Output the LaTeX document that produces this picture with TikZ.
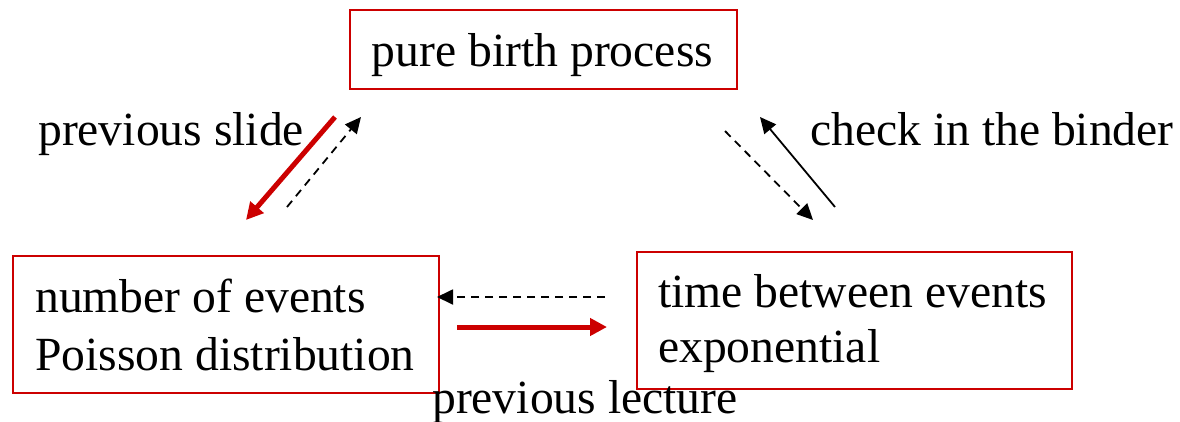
\documentclass[tikz,border=0pt]{standalone}
\usepackage{fontspec}
\setmainfont{Liberation Serif}
\usetikzlibrary{arrows.meta}
\definecolor{boxred}{RGB}{204,0,0}
\tikzset{
  box/.style={draw=boxred, line width=2pt, fill=white, inner sep=0pt},
  txt/.style={inner sep=0pt, font=\fontsize{47.6}{58}\selectfont},
  redarrow/.style={draw=boxred, line width=5pt, -{Triangle[length=17pt,width=17pt]}},
  dasharrow/.style={draw=black, line width=1.8pt, dash pattern=on 8pt off 6pt, -{Triangle[length=16pt,width=15pt]}},
  solidarrow/.style={draw=black, line width=1.8pt, -{Triangle[length=16pt,width=15pt]}}
}
\begin{document}
\begin{tikzpicture}[x=1pt,y=-1pt]
\useasboundingbox (0,0) rectangle (1180,421);
% boxes
\node[box, minimum width=387pt, minimum height=79pt] (top) at (543,49.5) {};
\node[box, minimum width=426pt, minimum height=137pt] (left) at (226,324.5) {};
\node[box, minimum width=435pt, minimum height=137pt] (right) at (854.5,320.5) {};
% box texts
\node[txt, anchor=base] (topt) at (542.5,66) {pure birth process};
\node[txt, anchor=base west] (leftt1) at (35,312) {number of events};
\node[txt, anchor=base west] (leftt2) at (35,370) {Poisson distribution};
\node[txt, anchor=base west] (rightt1) at (658,307) {time between events};
\node[txt, anchor=base west] (rightt2) at (658,362) {exponential};
% labels
\node[txt, anchor=base west] (lslide) at (38,145) {previous slide};
\node[txt, anchor=base west] (lbinder) at (810,145) {check in the binder};
\node[txt, anchor=base west] (llecture) at (432,413) {previous lecture};
% arrow end points
\coordinate (a1s) at (335,117); \coordinate (a1e) at (246,220);
\coordinate (a2s) at (287,207); \coordinate (a2e) at (361,117);
\coordinate (a3s) at (725,131); \coordinate (a3e) at (813,220);
\coordinate (a4s) at (835,207); \coordinate (a4e) at (760,117);
\coordinate (a5s) at (605,297); \coordinate (a5e) at (437,297);
\coordinate (a6s) at (457,327); \coordinate (a6e) at (607,327);
% arrows
\draw[redarrow] (a1s) -- (a1e);
\draw[dasharrow] (a2s) -- (a2e);
\draw[dasharrow] (a3s) -- (a3e);
\draw[solidarrow] (a4s) -- (a4e);
\draw[dasharrow] (a5s) -- (a5e);
\draw[redarrow] (a6s) -- (a6e);
\end{tikzpicture}
\end{document}
